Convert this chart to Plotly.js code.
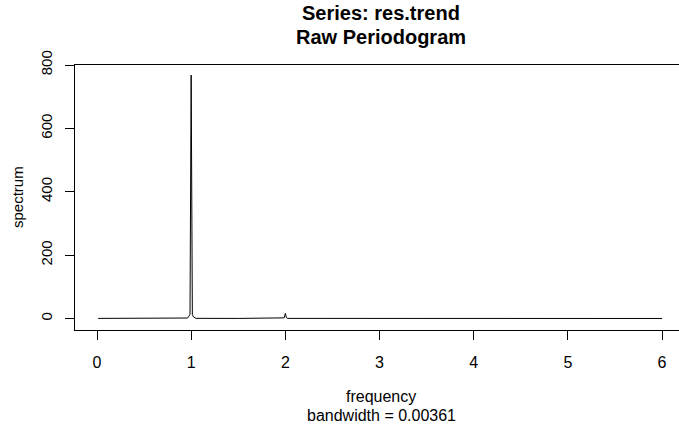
<!DOCTYPE html>
<html>
<head>
<meta charset="utf-8">
<script src="https://cdn.plot.ly/plotly-3.0.1.min.js"></script>
<style>html,body{margin:0;padding:0;background:#fff;}#chart{width:679px;height:429px;}</style>
</head>
<body>
<div id="chart"></div>
<script>
// Raw periodogram (frequency, spectrum)
var frequency = [0.0125, 0.5, 0.95, 0.9625, 0.975, 0.9875, 1.0, 1.0125, 1.025, 1.0375, 1.05, 1.5, 1.975, 1.9875, 2.0, 2.0125, 2.025, 3.0, 4.0, 5.0, 6.0];
var spectrum  = [0.3,    0.2, 0.5,  1.5,    7,     13,     768, 12,     5,     1.5,    0.5,  0.2, 0.3,   2,      16,  2,      0.3,   0.1, 0.1, 0.1, 0.1];
var xTicks = [0, 1, 2, 3, 4, 5, 6];
var yTicks = [0, 200, 400, 600, 800];
var titleLines = ["Series: res.trend", "Raw Periodogram"];
var xLabel = "frequency";
var subLabel = "bandwidth = 0.00361";
var yLabel = "spectrum";

var fontFam = "Liberation Sans, Arial, Helvetica, sans-serif";
var trace = {
  x: frequency, y: spectrum, type: "scatter", mode: "lines",
  line: {color: "#000", width: 1}, hoverinfo: "skip"
};
var layout = {
  width: 679, height: 429,
  margin: {l: 75, r: 0, t: 65, b: 99, pad: 0},
  paper_bgcolor: "#fff", plot_bgcolor: "#fff",
  showlegend: false,
  font: {family: fontFam, color: "#000", size: 16},
  xaxis: {
    range: [-0.2336, 6.180], tickmode: "array", tickvals: xTicks,
    ticktext: xTicks.map(String),
    showgrid: false, zeroline: false, showline: true, mirror: true,
    linecolor: "#000", linewidth: 1,
    ticks: "outside", ticklen: 9, tickwidth: 1, tickcolor: "#000",
    tickfont: {family: fontFam, size: 16, color: "#000"},
    ticklabelstandoff: 9
  },
  yaxis: {
    range: [-36.3, 800], tickmode: "array", tickvals: yTicks,
    ticktext: yTicks.map(String),
    showgrid: false, zeroline: false, showline: true, mirror: false,
    linecolor: "#000", linewidth: 1,
    ticks: "outside", ticklen: 9, tickwidth: 1, tickcolor: "#000",
    tickangle: -90,
    tickfont: {family: fontFam, size: 15, color: "#000"},
    ticklabelstandoff: 7
  },
  annotations: [
    {text: "<b>" + titleLines[0] + "</b>", xref: "paper", yref: "paper", x: 0.507, y: (330 - 13) / 265,
     xanchor: "center", yanchor: "middle", showarrow: false, font: {family: fontFam, size: 20, color: "#000"}},
    {text: "<b>" + titleLines[1] + "</b>", xref: "paper", yref: "paper", x: 0.507, y: (330 - 37) / 265,
     xanchor: "center", yanchor: "middle", showarrow: false, font: {family: fontFam, size: 20, color: "#000"}},
    {text: xLabel, xref: "paper", yref: "paper", x: 0.507, y: (330 - 396) / 265,
     xanchor: "center", yanchor: "middle", showarrow: false, font: {family: fontFam, size: 16, color: "#000"}},
    {text: subLabel, xref: "paper", yref: "paper", x: 0.507, y: (330 - 415) / 265,
     xanchor: "center", yanchor: "middle", showarrow: false, font: {family: fontFam, size: 16, color: "#000"}},
    {text: yLabel, xref: "paper", yref: "paper", x: (17 - 75) / 604, y: (330 - 197) / 265,
     xanchor: "center", yanchor: "middle", textangle: -90, showarrow: false, font: {family: fontFam, size: 15, color: "#000"}}
  ]
};
Plotly.newPlot("chart", [trace], layout, {displayModeBar: false, staticPlot: true});
</script>
</body>
</html>
